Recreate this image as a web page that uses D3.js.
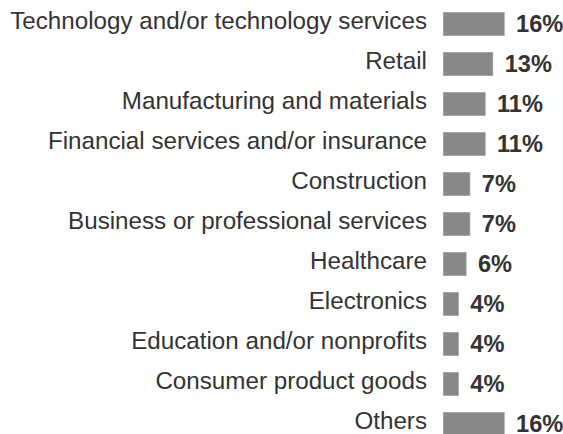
<!DOCTYPE html>
<html><head><meta charset="utf-8">
<script src="https://cdn.jsdelivr.net/npm/d3@7"></script>
<style>body{margin:0;background:#fff}</style>
</head><body>
<svg id="c" width="563" height="434"></svg>
<script>
const categories = ["Technology and/or technology services","Retail","Manufacturing and materials","Financial services and/or insurance","Construction","Business or professional services","Healthcare","Electronics","Education and/or nonprofits","Consumer product goods","Others"];
const values = [16,13,11,11,7,7,6,4,4,4,16];

const svg = d3.select("#c");
const x0 = 443.3;
const x = d3.scaleLinear().domain([0,16]).range([0,61]);
const y = d3.scaleBand().domain(categories).range([12.3,435.7]).paddingInner(0.415).paddingOuter(0);
const font = "Liberation Sans, Arial, Helvetica, sans-serif";

const g = svg.append("g");
g.selectAll("rect").data(categories).join("rect")
  .attr("x", x0).attr("y", d=>y(d)).attr("width",(d,i)=>x(values[i])).attr("height", y.bandwidth())
  .attr("fill","#888888").attr("stroke","#a6a6a6").attr("stroke-width",0.6);
g.selectAll("text.lab").data(categories).join("text").attr("class","lab")
  .attr("x", 427).attr("y", d=>y(d)+y.bandwidth()/2+4.6)
  .attr("text-anchor","end").attr("font-family",font)
  .attr("font-size",24.2).attr("fill","#333").text(d=>d);
g.selectAll("text.val").data(categories).join("text").attr("class","val")
  .attr("x",(d,i)=>x0+x(values[i])+11.8).attr("y", d=>y(d)+y.bandwidth()/2+8.3)
  .attr("font-family",font).attr("font-weight","bold")
  .attr("font-size",23.6).attr("fill","#333").text((d,i)=>values[i]+"%");
</script>
</body></html>
